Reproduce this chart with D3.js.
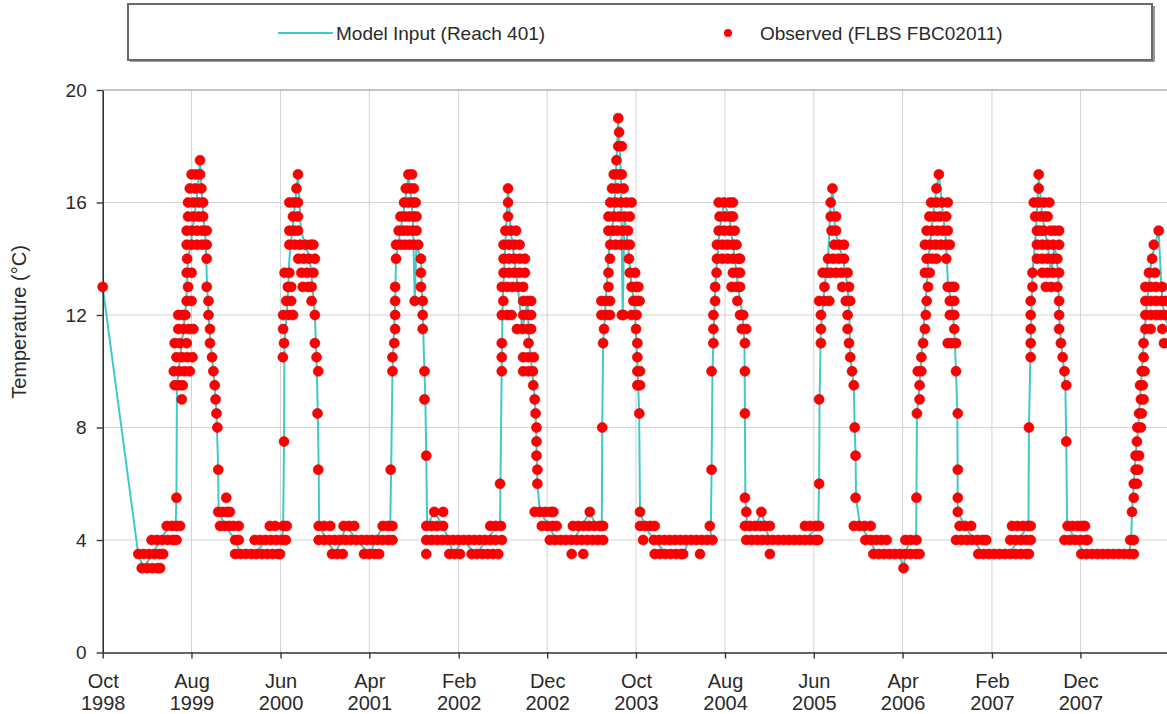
<!DOCTYPE html>
<html><head><meta charset="utf-8">
<script src="https://cdn.jsdelivr.net/npm/d3@7"></script>
<style>
html,body{margin:0;padding:0;background:#fff;}
svg{display:block;font-family:"Liberation Sans",Arial,Helvetica,sans-serif;}
</style></head><body>
<svg id="chart" width="1167" height="714"></svg>
<script>
// ---------- labels ----------
const seriesNames = ["Model Input (Reach 401)", "Observed (FLBS FBC02011)"];
const yTicks = [0, 4, 8, 12, 16, 20];
const tickMonthLabels = ["Oct","Aug","Jun","Apr","Feb","Dec","Oct","Aug","Jun","Apr","Feb","Dec"];
const tickYearLabels = ["1998","1999","2000","2001","2002","2002","2003","2004","2005","2006","2007","2007"];
const yTitle = "Temperature (°C)";

// ---------- data: [months since 1 Oct 1998, °C] ----------
const modelInput = [
[0,13],[4.0,3.5],[4.6,3.0],[5.6,3.5],[6.5,4.0],[7.5,4.5],[8.2,4.5],[8.3,5.5],[8.35,9.5],[8.7,10.5],[9.1,11.5],[9.4,12.5],[9.6,14],[9.9,14.5],[10.3,15.5],[10.7,16.5],[10.95,17.5],[11.2,16],[11.6,14.5],[11.75,13],[12.0,11.5],[12.3,10.5],[12.6,9.5],[12.8,8.5],[12.95,7],[13.05,5],[13.8,4.5],[14.9,4.0],[15.5,3.5],[17.0,3.5],[18.5,4.0],[20.2,4.0],[20.3,4.5],
[20.4,7.5],[20.45,11],[20.8,12.5],[21.0,14],[21.5,15.5],[21.97,17],[22.3,15],[22.8,14.5],[23.3,14],[23.6,13],[23.87,12],[24.05,10.5],[24.2,8.5],[24.3,6.5],[24.35,4.5],[25.2,4.0],[26.2,3.5],[27.4,4.5],[28.6,4.0],[30.0,3.5],[31.5,4.5],[32.35,4.5],
[32.45,6.5],[32.6,10],[32.9,12.5],[33.0,14],[33.5,15],[34.0,16],[34.4,17],[34.9,15.5],[35.1,12.5],[35.3,14.5],[35.8,14],[35.9,13],[36.0,12],[36.2,10],[36.3,9],[36.4,7],[36.5,4.5],[37.3,5],[38.3,4.5],[39.5,3.5],[40.5,4.0],[42.0,3.5],[43.2,4.0],[44.4,4.5],[44.7,4.5],
[44.75,6],[44.9,10.5],[45.0,12.5],[45.3,14.5],[45.6,16.5],[45.9,15],[46.3,14],[46.7,13],[47.2,11.5],[47.8,12.5],[48.0,11],[48.3,10],[48.5,9.5],[48.7,8.5],[48.8,7.5],[48.9,6],[49.2,5],[50.2,4.5],[51.0,4.0],[53.0,4.0],[54.8,5],[55.5,4.5],[56.15,4.5],
[56.2,8],[56.3,11],[56.6,12.5],[57.0,14.5],[57.5,15.5],[57.8,17.5],[58.0,19],[58.3,17],[58.5,12],[58.7,15.5],[59.1,14.5],[59.5,13],[59.8,12.5],[60.05,11],[60.2,10],[60.35,8.5],[60.45,5],[61.0,4.5],[62.0,4.0],[63.5,3.5],[65.3,3.5],[66.0,4.0],[68.4,4.0],
[68.5,6.5],[68.6,10],[68.8,12],[69.0,13.5],[69.4,15],[69.9,16],[70.5,15.5],[70.9,14.5],[71.3,13.5],[71.7,12.5],[72.0,12],[72.2,11],[72.25,8.5],[72.3,5.5],[72.5,4.5],[73.5,4.5],[74.1,5],[75.0,4.0],[77.0,4.0],[79.0,4.0],[80.5,4.5],
[80.6,6],[80.65,9],[80.8,11.5],[81.2,13],[81.6,14],[81.9,16],[82.1,16.5],[82.4,15],[82.8,14.5],[83.3,14],[83.8,13],[84.0,12],[84.1,10.5],[84.3,10],[84.5,9.5],[84.6,8],[84.7,7],[84.75,5.5],[85.2,4.5],[86.4,4.0],[87.0,3.5],[89.6,3.5],[90.1,3.0],[90.3,3.5],[90.8,4.0],[91.5,4.0],
[91.55,5.5],[91.6,8.5],[91.9,9.5],[92.2,11],[92.6,12.5],[92.9,14],[93.4,15.5],[93.8,16.5],[94.07,17],[94.4,16],[94.9,14.5],[95.1,13],[95.5,12.5],[95.8,11.5],[96.0,10],[96.15,8.5],[96.2,5],[97.0,4.5],[98.0,4.0],[99.0,3.5],[102.0,3.5],[103.0,4.0],[104.15,4.5],
[104.2,8],[104.4,11],[104.6,13.5],[105.0,15],[105.3,17],[105.7,15.5],[106.3,14.5],[106.7,13.5],[107.1,14.5],[107.5,13.5],[107.6,12],[107.8,11],[108.0,10.5],[108.3,9.5],[108.4,7.5],[108.5,4.5],[109.5,4.0],[110.5,3.5],[115.5,3.5],[115.7,4],[115.8,5],
[116.0,6],[116.2,7],[116.5,8],[116.8,9.5],[117.1,11],[117.5,12.5],[118.0,14],[118.4,14.5],[118.8,15],[119.1,13],[119.4,12],[120,11.5]
];

const obs1999 = [
[0,13],
[4.0,3.5],[4.6,3.5],[5.2,3.5],[5.8,3.5],[6.4,3.5],[6.8,3.5],
[4.4,3],[5.0,3],[5.6,3],[6.2,3],[6.45,3],
[5.5,4],[6.1,4],[6.7,4],[7.3,4],[7.9,4],[8.3,4],
[7.2,4.5],[7.8,4.5],[8.3,4.5],[8.7,4.5],
[8.3,5.5],[8.9,9],[8.1,9.5],[8.6,9.5],[9.0,9.5],
[8.0,10],[8.6,10],[9.2,10],[9.8,10],
[8.3,10.5],[8.9,10.5],[9.5,10.5],[10.1,10.5],
[8.1,11],[8.7,11],[9.45,11],
[8.5,11.5],[9.1,11.5],[9.7,11.5],[10.2,11.5],
[8.5,12],[9.0,12],[9.3,12],
[9.45,12.5],[10.0,12.5],[9.6,13],[9.45,13.5],[10.0,13.5],[9.5,14],
[9.45,14.5],[10.0,14.5],[10.6,14.5],[11.2,14.5],[11.7,14.5],
[9.45,15],[10.0,15],[10.6,15],[11.2,15],[11.7,15],
[9.6,15.5],[10.2,15.5],[10.8,15.5],[11.3,15.5],
[9.6,16],[10.2,16],[10.8,16],[11.3,16],
[9.8,16.5],[10.4,16.5],[11.1,16.5],
[10.0,17],[10.5,17],[10.95,17],[10.95,17.5],
[11.7,14],[11.7,13],[11.9,12.5],[11.9,12],[12.07,11.5],[12.07,11],[12.3,10.5],[12.45,10],[12.6,9.5],[12.7,9],[12.8,8.5],[12.9,8],[13.0,6.5],[13.9,5.5],
[13.0,5],[13.5,5],[14.0,5],[14.3,5],
[13.2,4.5],[13.7,4.5],[14.2,4.5],[14.7,4.5],[15.3,4.5],
[14.9,4],[15.3,4],[17.1,4],[17.7,4],[18.3,4],[18.9,4],[19.5,4],[20.1,4],[20.6,4],
[14.9,3.5],[15.5,3.5],[16.1,3.5],[16.7,3.5],[17.3,3.5],[17.9,3.5],[18.5,3.5],[19.1,3.5],[19.7,3.5],[19.95,3.5],
[18.8,4.5],[19.4,4.5],[20.3,4.5],[20.7,4.5]
];

const obs2000 = [
[20.4,7.5],[20.27,10.5],[20.4,11],[20.3,11.5],
[20.3,12],[20.9,12],[21.4,12],[20.65,12.5],[21.2,12.5],[20.83,13],[21.2,13],[20.46,13.5],[21.0,13.5],
[21.0,14.5],[21.6,14.5],[22.2,14.5],[22.8,14.5],[23.4,14.5],[23.7,14.5],
[21.0,15],[21.5,15],[21.97,15],[21.4,15.5],[21.97,15.5],
[21.0,16],[21.5,16],[21.97,16],[21.8,16.5],[21.97,17],
[22.0,14],[22.6,14],[23.2,14],[23.87,14],
[22.35,13.5],[23.0,13.5],[23.7,13.5],[22.5,13],[23.1,13],[23.5,13],
[23.5,12.5],[23.87,12],[23.87,11],[24.06,10.5],[24.25,10],[24.17,8.5],[24.25,6.5],
[24.3,4.5],[24.9,4.5],[25.6,4.5],
[24.3,4],[24.9,4],[25.5,4],[26.1,4],[26.7,4],[27.3,4],[27.9,4],[28.5,4],[29.1,4],[29.7,4],[30.3,4],[30.9,4],[31.5,4],[32.1,4],[32.6,4],
[27.1,4.5],[27.7,4.5],[28.3,4.5],[31.5,4.5],[32.1,4.5],[32.6,4.5],
[25.8,3.5],[26.4,3.5],[27.0,3.5],[29.4,3.5],[30.0,3.5],[30.6,3.5],[31.1,3.5]
];

const obs2001 = [
[32.4,6.5],[32.6,10],[32.6,10.5],[32.8,11],[32.9,11.5],[32.9,12],[32.9,12.5],[32.9,13],
[33.0,14],[35.8,14],
[33.0,14.5],[33.5,14.5],[34.0,14.5],[34.5,14.5],[35.0,14.5],[35.5,14.5],
[33.3,15],[33.8,15],[34.3,15],[34.8,15],[35.3,15],
[33.5,15.5],[34.0,15.5],[34.5,15.5],[35.0,15.5],[35.3,15.5],
[33.9,16],[34.4,16],[34.9,16],[35.2,16],
[34.1,16.5],[34.6,16.5],[35.0,16.5],[34.4,17],[34.8,17],
[35.8,13.5],[35.8,13],[35.1,12.5],[36.0,12.5],[36.0,12],[36.0,11.5],[36.2,10],[36.2,9],[36.4,7],
[36.4,4.5],[37.0,4.5],[37.6,4.5],[38.3,4.5],[37.3,5],[38.3,5],
[36.4,4],[37.0,4],[37.6,4],[38.2,4],[38.8,4],[39.4,4],[40.0,4],[40.6,4],[41.2,4],[41.8,4],[42.4,4],[43.0,4],[43.6,4],[44.2,4],[44.9,4],
[36.4,3.5],[39.0,3.5],[39.6,3.5],[40.2,3.5],[41.5,3.5],[42.1,3.5],[42.7,3.5],[43.3,3.5],[43.9,3.5],[44.5,3.5],
[43.6,4.5],[44.2,4.5],[44.8,4.5]
];

const obs2002 = [
[44.7,6],[44.9,10],[44.9,10.5],[44.9,11],
[44.9,12],[45.5,12],[46.0,12],[45.07,12.5],
[44.9,13],[45.5,13],[46.1,13],[46.7,13],[47.3,13],
[45.1,13.5],[45.7,13.5],[46.3,13.5],[46.9,13.5],[47.5,13.5],
[45.1,14],[45.7,14],[46.3,14],[46.9,14],[47.5,14],
[45.1,14.5],[45.7,14.5],[46.3,14.5],[46.9,14.5],
[45.3,15],[45.9,15],[46.5,15],[45.6,15.5],[45.6,16],[45.6,16.5],
[46.6,11.5],[47.2,11.5],[47.8,11.5],[48.2,11.5],
[47.3,12.5],[47.8,12.5],[48.2,12.5],[47.3,12],[47.8,12],[48.2,12],[47.9,11],
[47.3,10.5],[47.9,10.5],[48.5,10.5],[47.3,10],[47.9,10],[48.4,10],
[48.44,9.5],[48.6,9],[48.7,8.5],[48.8,8],[48.8,7.5],[48.8,7],[48.9,6.5],[48.9,6],
[48.6,5],[49.2,5],[49.8,5],[50.4,5],[50.7,5],
[49.4,4.5],[50.0,4.5],[50.6,4.5],[51.07,4.5],
[50.3,4],[50.9,4],[51.5,4],[52.1,4],[52.7,4],[53.3,4],[53.9,4],[54.5,4],[55.1,4],[55.7,4],[56.3,4],
[52.76,3.5],[54.07,3.5],[54.8,5],
[52.9,4.5],[53.5,4.5],[54.1,4.5],[54.7,4.5],[55.3,4.5],[55.9,4.5],[56.3,4.5]
];

const obs2003 = [
[56.2,8],[56.3,11],[56.4,11.5],
[56.1,12],[56.6,12],[57.07,12],[56.1,12.5],[56.6,12.5],[57.07,12.5],
[56.9,13],[56.9,13.5],[57.07,14],[59.2,14],
[57.1,14.5],[57.7,14.5],[58.3,14.5],[58.9,14.5],[59.3,14.5],
[56.9,15],[57.4,15],[57.9,15],[58.5,15],[59.1,15],
[56.9,15.5],[57.5,15.5],[58.1,15.5],[58.7,15.5],[59.3,15.5],
[57.1,16],[57.7,16],[58.3,16],[58.9,16],[59.5,16],
[57.3,16.5],[57.9,16.5],[58.6,16.5],
[57.5,17],[58.0,17],[58.4,17],[57.8,17.5],[58.0,18],[58.4,18],[58.1,18.5],[58.0,19],
[59.3,13.5],[59.9,13.5],[59.5,13],[60.0,13],[60.26,13],
[59.7,12.5],[60.1,12.5],[60.4,12.5],
[58.4,12],[58.6,12],[59.5,12],[60.07,12],
[60.0,11.5],[60.15,11],[60.15,10.5],[60.15,10],[60.45,10],[60.15,9.5],[60.45,9.5],[60.37,8.5],
[60.45,5],[60.45,4.5],[61.0,4.5],[61.6,4.5],[62.1,4.5],
[60.8,4],[62.0,4],[62.6,4],[63.2,4],[63.8,4],[64.4,4],[65.0,4],[65.6,4],[66.2,4],[66.8,4],[67.4,4],[68.0,4],[68.6,4],
[62.1,3.5],[62.7,3.5],[63.3,3.5],[63.9,3.5],[64.5,3.5],[65.1,3.5],[65.3,3.5],[67.2,3.5],[68.3,4.5]
];

const obs2004 = [
[68.5,6.5],[68.5,10],[68.7,11],[68.7,11.5],[68.7,12],[68.9,12.5],[68.9,13],[69.06,13.5],
[69.1,14],[69.7,14],[70.3,14],[70.9,14],[71.5,14],[71.7,14],
[69.1,14.5],[69.7,14.5],[70.3,14.5],[70.9,14.5],[71.3,14.5],
[69.3,15],[69.9,15],[70.5,15],[71.1,15],
[69.4,15.5],[70.0,15.5],[70.6,15.5],[70.9,15.5],
[69.3,16],[69.9,16],[70.5,16],[70.9,16],
[70.9,13.5],[71.4,13.5],[71.7,13.5],[70.75,13],[71.3,13],[71.7,13],
[71.4,12.5],[71.7,12],[72.06,12],[71.9,11.5],[72.4,11.5],[72.25,11],[72.25,10],[72.25,8.5],[72.25,5.5],
[72.4,5],[74.1,5],
[72.25,4.5],[72.8,4.5],[73.4,4.5],[74.0,4.5],[74.5,4.5],[75.06,4.5],
[72.4,4],[73.0,4],[73.6,4],[74.2,4],[74.8,4],[75.4,4],[76.0,4],[76.6,4],[77.2,4],[77.8,4],[78.4,4],[79.0,4],[79.6,4],[80.2,4],[80.5,4],
[75.06,3.5],[79.0,4.5],[79.6,4.5],[80.2,4.5],[80.6,4.5]
];

const obs2005 = [
[80.6,6],[80.6,9],[80.8,11],[80.8,11.5],[80.8,12],
[80.6,12.5],[81.2,12.5],[81.74,12.5],[81.2,13],
[81.0,13.5],[81.5,13.5],[81.9,13.5],[82.5,13.5],[83.1,13.5],[83.8,13.5],
[81.6,14],[82.2,14],[82.8,14],[83.4,14],
[82.3,14.5],[82.85,14.5],[83.4,14.5],
[82.0,15],[82.5,15],[81.9,15.5],[82.5,15.5],[81.9,16],[82.1,16.5],
[83.2,13],[83.96,13],[83.6,12.5],[84.1,12.5],[83.8,12],[83.8,11.5],[83.96,11],[84.1,10.5],[84.3,10],[84.5,9.5],[84.6,8],[84.7,7],[84.7,5.5],
[84.5,4.5],[85.1,4.5],[85.7,4.5],[86.4,4.5],
[85.8,4],[86.4,4],[87.0,4],[87.6,4],[88.2,4],
[86.7,3.5],[87.3,3.5],[87.9,3.5],[88.5,3.5],[89.1,3.5],[89.7,3.5],[90.3,3.5],[90.9,3.5],[91.5,3.5],[91.9,3.5],
[90.1,3],[90.3,4],[90.9,4],[91.55,4]
];

const obs2006 = [
[91.55,5.5],[91.6,8.5],[91.9,9],[91.9,9.5],[91.7,10],[92.1,10],[92.1,10.5],[92.3,11],[92.5,11.5],[92.6,12],[92.7,12.5],[92.85,13],
[92.5,13.5],[93.04,13.5],[92.7,14],[93.3,14],[93.8,14],
[92.5,14.5],[93.1,14.5],[93.7,14.5],[94.3,14.5],[94.9,14.5],[95.3,14.5],
[92.7,15],[93.3,15],[93.9,15],[94.5,15],[95.07,15],
[93.0,15.5],[93.6,15.5],[94.2,15.5],[94.9,15.5],
[93.2,16],[93.8,16],[94.4,16],[95.07,16],
[93.8,16.5],[94.07,17],[94.9,14],
[95.07,13],[95.5,13],[95.8,13],[95.3,12.5],[95.8,12.5],[95.3,12],[95.8,12],[95.8,11.5],
[95.07,11],[95.5,11],[96.0,11],[96.0,10],[96.2,8.5],[96.2,6.5],[96.2,5.5],[96.2,5],
[96.4,4.5],[97.0,4.5],[97.7,4.5],
[96.0,4],[96.6,4],[97.2,4],[97.8,4],[98.4,4],[99.0,4],[99.4,4],
[98.5,3.5],[99.1,3.5],[99.7,3.5],[100.3,3.5],[100.9,3.5],[101.5,3.5],[102.1,3.5],[102.7,3.5],[103.3,3.5],[103.9,3.5],[104.2,3.5],
[102.1,4],[102.7,4],[103.3,4],[103.9,4],[104.4,4],
[102.3,4.5],[102.9,4.5],[103.5,4.5],[104.1,4.5],[104.4,4.5]
];

const obs2007 = [
[104.2,8],[104.4,10.5],[104.4,11],[104.4,11.5],[104.4,12],[104.4,12.5],[104.6,13],[104.6,13.5],
[105.1,14],[105.7,14],[106.3,14],[106.9,14],[107.4,14],
[105.1,14.5],[105.7,14.5],[106.3,14.5],[106.9,14.5],[107.6,14.5],
[105.1,15],[105.5,15],[105.9,15],[106.65,15],[107.1,15],[107.6,15],
[104.9,15.5],[105.5,15.5],[106.0,15.5],[106.3,15.5],
[104.75,16],[105.3,16],[105.9,16],[106.5,16],
[105.3,16.5],[105.3,17],
[105.7,13.5],[106.3,13.5],[106.9,13.5],[107.6,13.5],
[106.1,13],[106.7,13],[107.4,13],
[107.6,12.5],[107.6,12],[107.6,11.5],[107.8,11],[108.0,10.5],[108.2,10],[108.4,9.5],[108.4,7.5],
[108.55,4.5],[109.1,4.5],[109.7,4.5],[110.2,4.5],[110.5,4.5],
[108.2,4],[108.8,4],[109.4,4],[110.0,4],[110.6,4],[110.8,4],
[110.1,3.5],[110.7,3.5],[111.3,3.5],[111.9,3.5],[112.5,3.5],[113.1,3.5],[113.7,3.5],[114.3,3.5],[114.9,3.5],[115.5,3.5],[116.0,3.5],
[115.6,4],[116.0,4]
];

const obs2008 = [
[115.8,5],[116.0,5.5],[116.0,6],[116.35,6],[116.2,6.5],[116.5,6.5],[116.2,7],[116.6,7],[116.35,7.5],
[116.4,8],[116.8,8],[116.6,8.5],[116.9,8.5],[116.8,9],[117.1,9],[116.7,9.5],[117.0,9.5],[116.9,10],[117.2,10],
[117.1,10.5],[117.1,11],[117.3,11.5],[117.9,11.5],
[117.3,12],[117.9,12],[118.5,12],[119.0,12],[119.5,12],[120.0,12],
[117.3,12.5],[117.9,12.5],[118.5,12.5],[119.1,12.5],[119.6,12.5],
[117.3,13],[117.9,13],[118.5,13],[119.2,13],
[117.7,13.5],[118.4,13.5],[118.06,14],[118.25,14.5],[118.8,15],
[119.2,11.5],[119.4,11],[120.0,11]
];

const observed = [].concat(obs1999, obs2000, obs2001, obs2002, obs2003, obs2004, obs2005, obs2006, obs2007, obs2008);

// ---------- layout ----------
const svg = d3.select("#chart");
const plot = {left: 102.7, right: 1169.5, top: 90, bottom: 652.5};
const base = new Date(1998, 9, 1);
const toDate = m => new Date(base.getTime() + m * 30.4375 * 864e5);
const tickDates = tickMonthLabels.map((_, i) => d3.timeMonth.offset(base, 10 * i));

const x = d3.scaleTime().domain([base, d3.timeMonth.offset(base, 120)]).range([plot.left, plot.right]);
const y = d3.scaleLinear().domain([0, 20]).range([plot.bottom, plot.top]);

// gridlines
const grid = svg.append("g").attr("stroke", "#d3d3d3").attr("stroke-width", 1);
grid.selectAll("line.v").data(tickDates.slice(1)).join("line")
  .attr("x1", d => x(d)).attr("x2", d => x(d))
  .attr("y1", plot.top).attr("y2", plot.bottom);
grid.selectAll("line.h").data(yTicks.filter(t => t > 0 && t < 20)).join("line")
  .attr("x1", plot.left).attr("x2", plot.right)
  .attr("y1", d => y(d)).attr("y2", d => y(d));
// top & right frame
svg.append("line").attr("x1", plot.left).attr("x2", plot.right).attr("y1", y(20)).attr("y2", y(20))
  .attr("stroke", "#8c8c8c").attr("stroke-width", 1.2);
svg.append("line").attr("x1", plot.right).attr("x2", plot.right).attr("y1", plot.top).attr("y2", plot.bottom)
  .attr("stroke", "#8c8c8c").attr("stroke-width", 1.2);

// model line
const line = d3.line().x(d => x(toDate(d[0]))).y(d => y(d[1]));
svg.append("path").datum(modelInput)
  .attr("d", line).attr("fill", "none")
  .attr("stroke", "#3fcaca").attr("stroke-width", 2).attr("stroke-linejoin", "round");

// axes
const yAxis = svg.append("g").attr("transform", `translate(${plot.left},0)`)
  .call(d3.axisLeft(y).tickValues(yTicks).tickSize(6).tickPadding(10).tickSizeOuter(0));
const xAxis = svg.append("g").attr("transform", `translate(0,${plot.bottom})`)
  .call(d3.axisBottom(x).tickValues(tickDates).tickSize(6).tickSizeOuter(0).tickFormat(() => ""));
[yAxis, xAxis].forEach(g => {
  g.select(".domain").attr("stroke", "#333").attr("stroke-width", 1.6);
  g.selectAll(".tick line").attr("stroke", "#333").attr("stroke-width", 1.4);
});
yAxis.selectAll(".tick text").attr("font-size", 19).attr("fill", "#2a2a2a")
  .attr("font-family", '"Liberation Sans", Arial, sans-serif');
xAxis.selectAll(".tick").each(function(d, i) {
  const t = d3.select(this).append("text").attr("fill", "#2a2a2a").attr("font-size", 20)
    .attr("text-anchor", "middle").attr("font-family", '"Liberation Sans", Arial, sans-serif');
  t.append("tspan").attr("x", 0).attr("y", 35.5).text(tickMonthLabels[i]);
  t.append("tspan").attr("x", 0).attr("y", 57.5).text(tickYearLabels[i]);
});

// observed dots
svg.append("g").selectAll("circle").data(observed).join("circle")
  .attr("cx", d => x(toDate(d[0]))).attr("cy", d => y(d[1])).attr("r", 5)
  .attr("fill", "#ff0000").attr("stroke", "#d80000").attr("stroke-width", 0.6);

// y title
svg.append("text").attr("transform", "translate(26,322) rotate(-90)")
  .attr("text-anchor", "middle").attr("font-size", 20).attr("fill", "#2a2a2a")
  .text(yTitle);

// legend
const lg = svg.append("g");
lg.append("rect").attr("x", 130).attr("y", 6).attr("width", 1025).attr("height", 56).attr("fill", "#9a9a9a");
lg.append("rect").attr("x", 128).attr("y", 4).attr("width", 1024).attr("height", 56)
  .attr("fill", "#fff").attr("stroke", "#6a6a6a").attr("stroke-width", 2);
lg.append("line").attr("x1", 278).attr("x2", 333).attr("y1", 33).attr("y2", 33)
  .attr("stroke", "#3fcaca").attr("stroke-width", 2);
lg.append("text").attr("x", 336).attr("y", 33).attr("dominant-baseline", "central")
  .attr("font-size", 19).attr("fill", "#2a2a2a").text(seriesNames[0]);
lg.append("circle").attr("cx", 728).attr("cy", 33).attr("r", 4).attr("fill", "#ff0000");
lg.append("text").attr("x", 760).attr("y", 33).attr("dominant-baseline", "central")
  .attr("font-size", 19).attr("fill", "#2a2a2a").text(seriesNames[1]);
</script>
</body></html>
